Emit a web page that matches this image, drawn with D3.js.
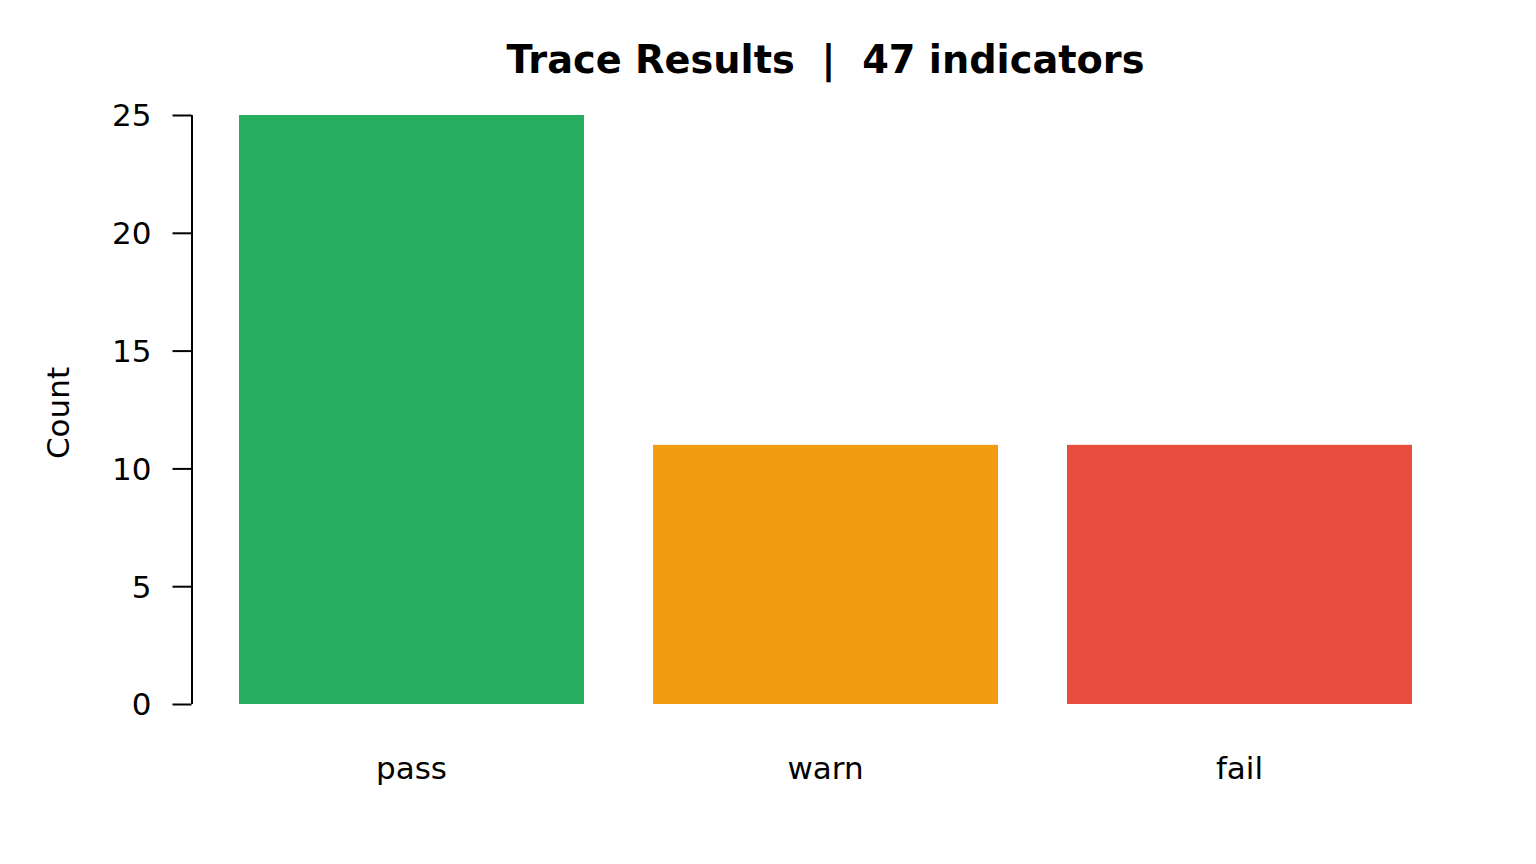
<!DOCTYPE html>
<html>
<head>
<meta charset="utf-8">
<script src="https://cdn.jsdelivr.net/npm/d3@7"></script>
<style>
html,body{margin:0;padding:0;background:#fff;}
svg{display:block;}
text{font-family:"DejaVu Sans",sans-serif;fill:#000;}
</style>
</head>
<body>
<svg id="chart" width="1536" height="864"></svg>
<script>
const categories = ["pass", "warn", "fail"];
const counts = [25, 11, 11];
const colors = ["#27AE60", "#F39C12", "#E74C3C"];
const yTicks = [0, 5, 10, 15, 20, 25];
const titleText = "Trace Results  |  47 indicators";
const yLabel = "Count";

const svg = d3.select("#chart");
const y = d3.scaleLinear().domain([0, 25]).range([704, 115]);
// R barplot coordinates: width 1, space 0.2
const x = d3.scaleLinear().domain([0.2, 3.6]).range([239, 1412]);

svg.append("g").selectAll("rect").data(counts).join("rect")
  .attr("x", (d, i) => x(0.2 + 1.2 * i))
  .attr("width", (d, i) => x(1.2 + 1.2 * i) - x(0.2 + 1.2 * i))
  .attr("y", d => y(d))
  .attr("height", d => y(0) - y(d))
  .attr("fill", (d, i) => colors[i]);

const yAxis = d3.axisLeft(y).tickValues(yTicks).tickSize(19).tickPadding(21).tickFormat(d3.format("d"));
const ga = svg.append("g").attr("transform", "translate(191.5,0)").call(yAxis);
ga.select(".domain").attr("d", `M0.5,${y(0)}V${y(25)}`).attr("stroke", "#000").attr("stroke-width", 2);
ga.selectAll(".tick line").attr("stroke", "#000").attr("stroke-width", 2);
ga.selectAll(".tick text").style("font-family", '"DejaVu Sans",sans-serif').style("font-size", "31px").attr("fill", "#000");
ga.selectAll(".tick text").attr("dy", "0.35em");

svg.append("g").selectAll("text").data(categories).join("text")
  .attr("x", (d, i) => x(0.7 + 1.2 * i))
  .attr("y", 779)
  .attr("text-anchor", "middle")
  .style("font-size", "31px")
  .text(d => d);

svg.append("text")
  .attr("transform", "translate(68.5,413) rotate(-90)")
  .attr("text-anchor", "middle")
  .style("font-size", "31px")
  .text(yLabel);

svg.append("text")
  .attr("x", x(1.9))
  .attr("y", 72.5)
  .attr("text-anchor", "middle")
  .style("font-size", "38.3px")
  .style("font-weight", "bold")
  .style("white-space", "pre")
  .attr("xml:space", "preserve")
  .text(titleText);
</script>
</body>
</html>
